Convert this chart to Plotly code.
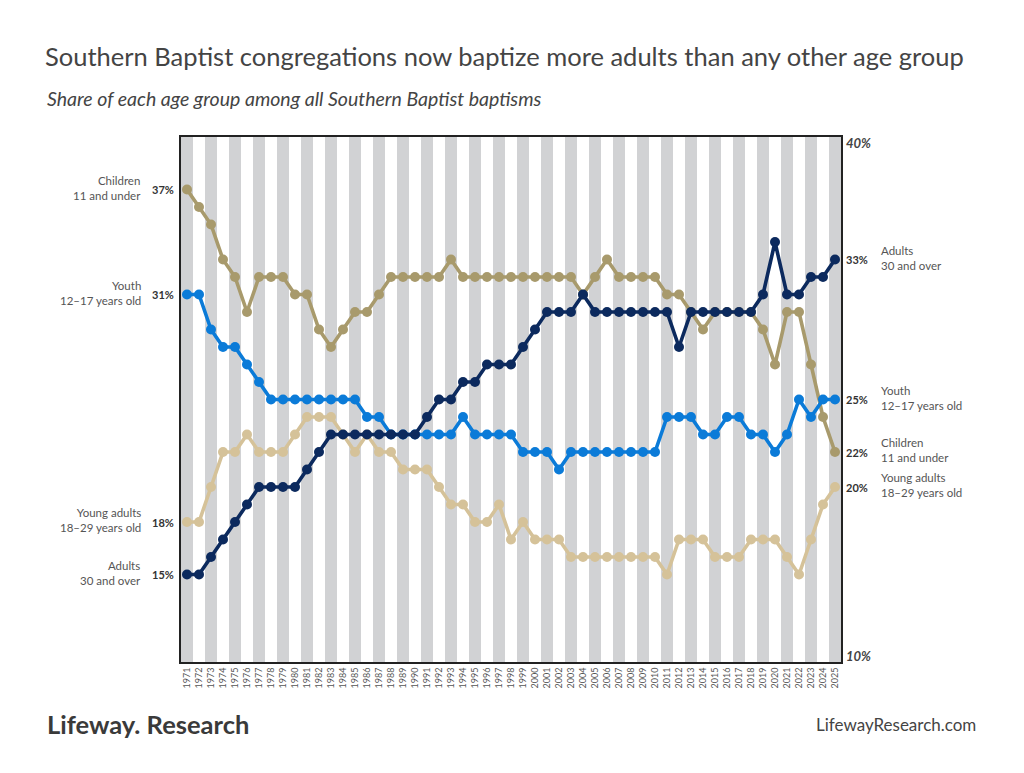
import plotly.graph_objects as go

# 数据：1971-2025 每年各年龄组占比（%）
years = list(range(1971, 2026))

children = [37, 36, 35, 33, 32, 30, 32, 32, 32, 31, 31, 29, 28, 29, 30, 30, 31, 32, 32, 32,
            32, 32, 33, 32, 32, 32, 32, 32, 32, 32, 32, 32, 32, 31, 32, 33, 32, 32, 32, 32,
            31, 31, 30, 29, 30, 30, 30, 30, 29, 27, 30, 30, 27, 24, 22]
youth = [31, 31, 29, 28, 28, 27, 26, 25, 25, 25, 25, 25, 25, 25, 25, 24, 24, 23, 23, 23,
         23, 23, 23, 24, 23, 23, 23, 23, 22, 22, 22, 21, 22, 22, 22, 22, 22, 22, 22, 22,
         24, 24, 24, 23, 23, 24, 24, 23, 23, 22, 23, 25, 24, 25, 25]
young_adults = [18, 18, 20, 22, 22, 23, 22, 22, 22, 23, 24, 24, 24, 23, 22, 23, 22, 22, 21, 21,
                21, 20, 19, 19, 18, 18, 19, 17, 18, 17, 17, 17, 16, 16, 16, 16, 16, 16, 16, 16,
                15, 17, 17, 17, 16, 16, 16, 17, 17, 17, 16, 15, 17, 19, 20]
adults = [15, 15, 16, 17, 18, 19, 20, 20, 20, 20, 21, 22, 23, 23, 23, 23, 23, 23, 23, 23,
          24, 25, 25, 26, 26, 27, 27, 27, 28, 29, 30, 30, 30, 31, 30, 30, 30, 30, 30, 30,
          30, 28, 30, 30, 30, 30, 30, 30, 31, 34, 31, 31, 32, 32, 33]

# 系列：名称、数值、颜色（按绘制顺序，成人在最上层）
series = [
    ("Young adults<br>18–29 years old", young_adults, "#d5c299"),
    ("Children<br>11 and under", children, "#a89a6c"),
    ("Youth<br>12–17 years old", youth, "#0b7bd8"),
    ("Adults<br>30 and over", adults, "#0c2a5e"),
]

FONT = "Lato"
TXT = "#444444"
W, H = 1024, 773
OFF = 8  # 浏览器页面默认边距，整体上移/左移
L, R, T, B = 181 - OFF, W - 841 + OFF, 137 - OFF, H - 662 + OFF


def paper_x(px):
    return (px - OFF - L) / (W - L - R)


def paper_y(py):
    return (H - B - (py - OFF)) / (H - T - B)


fig = go.Figure()

for name, vals, color in series:
    fig.add_trace(go.Scatter(
        x=years, y=vals, mode="lines+markers",
        line=dict(color=color, width=3.6),
        marker=dict(color=color, size=10),
        name=name, hoverinfo="skip", showlegend=False
    ))

# 奇数年灰色竖条
shapes = []
for yr in years:
    if yr % 2 == 1:
        shapes.append(dict(type="rect", xref="x", yref="y domain",
                           x0=yr - 0.5, x1=yr + 0.5, y0=0, y1=1,
                           fillcolor="#d1d2d4", line=dict(width=0), layer="below"))

annotations = []
# 左侧与右侧标签
for name, vals, color in series:
    annotations.append(dict(x=years[0], y=vals[0], xref="x", yref="y", text=f"<b>{vals[0]}%</b>",
                            showarrow=False, xanchor="right", xshift=-11,
                            font=dict(family=FONT, size=11, color="#333333")))
    annotations.append(dict(x=years[0], y=vals[0], xref="x", yref="y", text=name,
                            showarrow=False, xanchor="right", align="right", xshift=-44, yshift=2,
                            font=dict(family=FONT, size=11.5, color="#555555")))
    annotations.append(dict(x=years[-1], y=vals[-1], xref="x", yref="y", text=f"<b>{vals[-1]}%</b>",
                            showarrow=False, xanchor="left", xshift=9,
                            font=dict(family=FONT, size=11, color="#333333")))
    annotations.append(dict(x=years[-1], y=vals[-1], xref="x", yref="y", text=name,
                            showarrow=False, xanchor="left", align="left", xshift=44, yshift=2,
                            font=dict(family=FONT, size=11.5, color="#555555")))

# 右侧刻度
annotations.append(dict(x=1, y=40, xref="paper", yref="y", text="<b><i>40%</i></b>",
                        showarrow=False, xanchor="left", yanchor="middle", xshift=3, yshift=-6,
                        font=dict(family=FONT, size=13, color=TXT)))
annotations.append(dict(x=1, y=10, xref="paper", yref="y", text="<b><i>10%</i></b>",
                        showarrow=False, xanchor="left", yanchor="middle", xshift=3, yshift=6,
                        font=dict(family=FONT, size=13, color=TXT)))

# 副标题与页脚
annotations.append(dict(x=paper_x(45), y=paper_y(98), xref="paper", yref="paper",
                        text="<i>Share of each age group among all Southern Baptist baptisms</i>",
                        showarrow=False, xanchor="left", yanchor="middle",
                        font=dict(family=FONT, size=19.5, color=TXT)))
annotations.append(dict(x=paper_x(45), y=paper_y(724), xref="paper", yref="paper",
                        text="<b>Lifeway. Research</b>",
                        showarrow=False, xanchor="left", yanchor="middle",
                        font=dict(family=FONT, size=25.5, color="#3a3a3a")))
annotations.append(dict(x=paper_x(978), y=paper_y(724), xref="paper", yref="paper",
                        text="LifewayResearch.com",
                        showarrow=False, xanchor="right", yanchor="middle",
                        font=dict(family=FONT, size=17, color=TXT)))

fig.update_layout(
    width=W, height=H,
    margin=dict(l=L, r=R, t=T, b=B),
    paper_bgcolor="white", plot_bgcolor="white",
    font=dict(family=FONT, color=TXT),
    shapes=shapes,
    annotations=annotations,
    title=dict(
        text="Southern Baptist congregations now baptize more adults than any other age group",
        x=(45 - OFF) / W, xanchor="left", y=1 - (57 - OFF) / H, yanchor="middle",
        font=dict(family=FONT, size=25.5, color=TXT)
    ),
    xaxis=dict(
        range=[1970.5, 2025.5], tickvals=years, ticktext=[str(y) for y in years],
        tickangle=-90, tickfont=dict(family=FONT, size=9, color="#555555"),
        showgrid=False, zeroline=False, ticks="",
        showline=True, mirror=True, linecolor="#222222", linewidth=2
    ),
    yaxis=dict(
        range=[10, 40], showticklabels=False, showgrid=False, zeroline=False, ticks="",
        showline=True, mirror=True, linecolor="#222222", linewidth=2
    ),
)

fig.write_html("out.html")
